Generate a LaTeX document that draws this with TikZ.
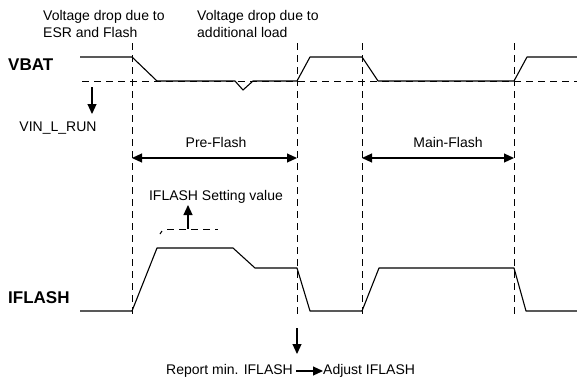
\documentclass[tikz,border=0pt]{standalone}
\usepackage{fontspec}
\setmainfont{Liberation Sans}
\usetikzlibrary{arrows.meta}

\tikzset{
  wave/.style={draw=black,line join=round,line width=1.1pt},
  guide/.style={draw=black,line width=1pt,dash pattern=on 7pt off 5pt},
  pointer/.style={draw=black,line width=1.1pt,-{Triangle[length=10pt,width=9pt]}},
  span/.style={draw=black,line width=1.1pt,{Triangle[length=10pt,width=9pt]}-{Triangle[length=10pt,width=9pt]}},
  lbl/.style={inner sep=0pt,font=\fontsize{14}{17}\selectfont},
  sig/.style={inner sep=0pt,font=\fontsize{17}{20}\selectfont\bfseries},
}

\begin{document}
\begin{tikzpicture}[x=1pt, y=-1pt]
\useasboundingbox (0,0) rectangle (577,383);

% time marks
\coordinate (preA) at (132,43);
\coordinate (preB) at (297,43);
\coordinate (mainA) at (362,43);
\coordinate (mainB) at (514,43);

\path[guide] (preA) -- (132,317);
\path[guide] (preB) -- (297,317);
\path[guide] (mainA) -- (362,317);
\path[guide] (mainB) -- (514,317);

% VBAT
\path[guide] (82,81) -- (577,81);
\path[wave] (80,57) -- (132,57) -- (157,81) -- (235,81) -- (243,90) -- (253,81) -- (297,81) -- (310,57) -- (362,57) -- (378,81) -- (514,81) -- (527,57) -- (577,57);

% IFLASH
\path[wave] (80,311) -- (132,311) -- (157,248) -- (233,248) -- (255,268) -- (297,268) -- (310,311) -- (362,311) -- (379,268) -- (514,268) -- (526,311) -- (577,311);
\path[draw=black,line width=1pt] (160,234) -- (162,231);
\path[guide] (167,229) -- (218,229);

\node[sig,anchor=west] (vbat) at (8,65) {VBAT};
\node[sig,anchor=west] (iflash) at (8,298) {IFLASH};

\node[lbl,anchor=west,align=left] (esr) at (43,23.5) {Voltage drop due to\\ESR and Flash};
\node[lbl,anchor=west,align=left] (load) at (197,23.5) {Voltage drop due to\\additional load};

\coordinate (vinTop) at (92,87);
\node[lbl] (vin) at (58,128) {VIN\_L\_RUN};
\path[pointer] (vinTop) -- (92,114);

\node[lbl] (pre) at (216,142) {Pre-Flash};
\path[span] (preA |- 0,158) -- (preB |- 0,158);
\node[lbl] (main) at (448,142) {Main-Flash};
\path[span] (mainA |- 0,158) -- (mainB |- 0,158);

\node[lbl] (set) at (216,197) {IFLASH Setting value};
\path[pointer] (188,229) -- (188,205);

\coordinate (repTop) at (297,328);
\node[lbl,anchor=east] (rep) at (293,371) {Report min. IFLASH};
\node[lbl,anchor=west] (adj) at (323,371) {Adjust IFLASH};
\path[pointer] (repTop) -- (297,354);
\path[pointer] (rep.east) ++(3,0) -- (adj.west);

\end{tikzpicture}
\end{document}
